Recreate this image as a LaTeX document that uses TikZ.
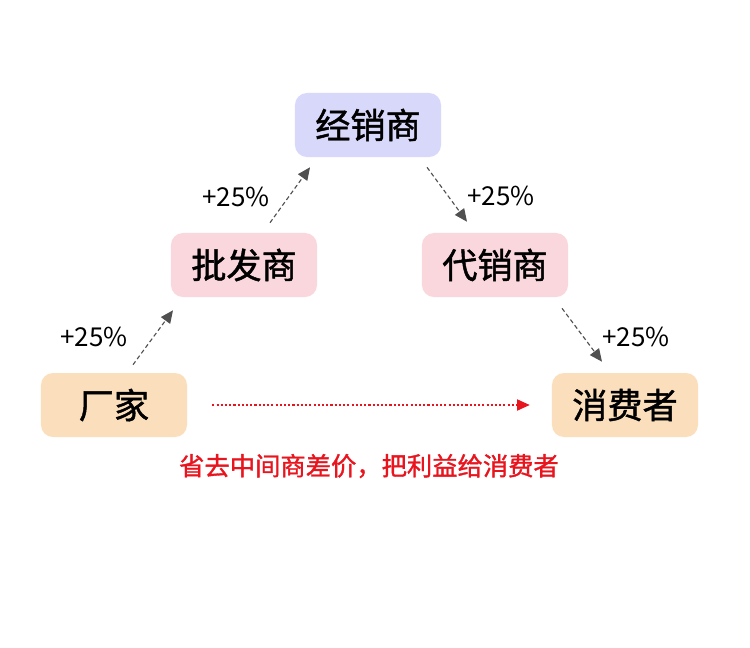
\documentclass[tikz,border=0pt]{standalone}
\usepackage{fontspec}
\setmainfont{Noto Sans CJK SC}
\newfontfamily\semibold{Noto Sans CJK SC}[FakeBold=1.3]
\usetikzlibrary{arrows.meta,calc}
\definecolor{boxlilac}{RGB}{216,216,250}
\definecolor{boxpink}{RGB}{250,215,220}
\definecolor{boxpeach}{RGB}{251,223,188}
\definecolor{arrowgray}{RGB}{80,80,80}
\definecolor{savered}{RGB}{232,20,30}

\tikzset{
  stagebox/.style={rounded corners=0.3cm, minimum width=3.65cm, minimum height=1.6cm,
    inner sep=0pt, font=\semibold\fontsize{25}{28}\selectfont},
  costarrow/.style={arrowgray, dash pattern=on 3pt off 2pt, thick,
    -{Triangle[length=9pt,width=8pt]}},
  savearrow/.style={savered, dash pattern=on 1.5pt off 1.5pt, thick,
    -{Triangle[length=9pt,width=8pt]}},
  pctlabel/.style={font=\fontsize{18.5}{20}\selectfont}
}

\begin{document}
\begin{tikzpicture}[x=0.025cm, y=-0.025cm]

% Canvas
\useasboundingbox (0,0) rectangle (750,647);

% Boxes
\node[stagebox, fill=boxlilac] (jingxiao) at (368,125) {经销商};
\node[stagebox, fill=boxpink] (pifa) at (244,265) {批发商};
\node[stagebox, fill=boxpink] (daixiao) at (495,265) {代销商};
\node[stagebox, fill=boxpeach] (changjia) at (114,405) {厂家};
\node[stagebox, fill=boxpeach] (xiaofei) at (625,405) {消费者};

% Markups
\draw[costarrow] ($(changjia.north)+(19,-8)$) -- ($(pifa.south)+(-71,13)$);
\draw[costarrow] ($(pifa.north)+(26,-10)$) -- ($(jingxiao.south)+(-58,10)$);
\draw[costarrow] ($(jingxiao.south)+(59,10)$) -- ($(daixiao.north)+(-28,-11)$);
\draw[costarrow] ($(daixiao.south)+(67,11)$) -- ($(xiaofei.north)+(-23,-11)$);

\node[pctlabel] (pct1) at (94,337) {+25\%};
\node[pctlabel] (pct2) at (236,197) {+25\%};
\node[pctlabel] (pct3) at (501,196) {+25\%};
\node[pctlabel] (pct4) at (636,337) {+25\%};

% Direct route
\draw[savearrow] ($(changjia.east)+(25,0)$) -- ($(xiaofei.west)+(-22,0)$);
\node[savered, font=\semibold\fontsize{18}{20}\selectfont] (note) at (369,466)
  {省去中间商差价，把利益给消费者};

\end{tikzpicture}
\end{document}
